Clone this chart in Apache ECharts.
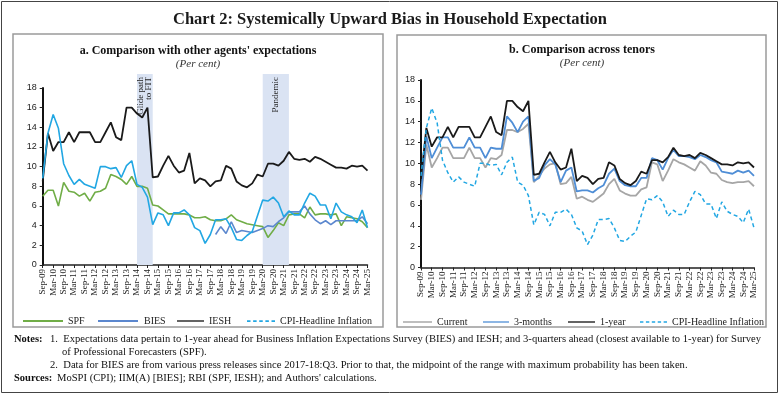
<!DOCTYPE html>
<html><head><meta charset="utf-8">
<script src="https://cdn.jsdelivr.net/npm/echarts@6/dist/echarts.min.js"></script>
<style>html,body{margin:0;padding:0;background:#fff}#c{width:780px;height:395px}</style>
</head><body><div id="c"></div>
<script>
const quarters = ['Sep-09','Dec-09','Mar-10','Jun-10','Sep-10','Dec-10','Mar-11','Jun-11','Sep-11','Dec-11',
'Mar-12','Jun-12','Sep-12','Dec-12','Mar-13','Jun-13','Sep-13','Dec-13','Mar-14','Jun-14','Sep-14','Dec-14',
'Mar-15','Jun-15','Sep-15','Dec-15','Mar-16','Jun-16','Sep-16','Dec-16','Mar-17','Jun-17','Sep-17','Dec-17',
'Mar-18','Jun-18','Sep-18','Dec-18','Mar-19','Jun-19','Sep-19','Dec-19','Mar-20','Jun-20','Sep-20','Dec-20',
'Mar-21','Jun-21','Sep-21','Dec-21','Mar-22','Jun-22','Sep-22','Dec-22','Mar-23','Jun-23','Sep-23','Dec-23',
'Mar-24','Jun-24','Sep-24','Dec-24','Mar-25'];

const spf = [7.0,7.6,7.6,6.0,8.4,7.5,7.4,7.0,7.3,6.5,7.4,7.5,7.8,9.2,9.0,8.7,8.2,9.0,8.0,8.0,7.8,6.1,
6.0,5.6,5.2,5.2,5.2,5.2,5.1,4.8,4.8,4.9,4.6,4.5,4.5,4.7,5.1,4.6,4.4,4.2,4.1,4.0,3.9,2.8,3.5,4.3,4.0,5.1,
5.2,5.2,4.8,5.9,5.1,5.2,5.2,5.1,5.2,4.0,4.9,4.8,4.7,4.4,3.8];

const bies = [null,null,null,null,null,null,null,null,null,null,null,null,null,null,null,null,null,null,
null,null,null,null,null,null,null,null,null,null,null,null,null,null,null,
3.1,3.9,3.2,4.4,3.3,3.5,3.4,3.3,3.5,3.7,4.0,3.9,4.4,4.8,5.4,5.4,5.4,6.0,5.2,4.6,4.2,4.5,4.1,4.5,4.5,4.5,4.5,4.5,4.9,4.2];

const iesh = [8.5,13.4,11.6,12.5,12.5,13.5,12.5,13.5,13.5,13.5,12.5,12.5,13.5,14.5,13.0,12.7,16.0,16.0,15.4,15.0,16.0,8.9,
9.0,10.1,11.1,10.1,9.4,9.6,11.4,8.3,8.8,8.6,8.0,8.5,8.6,10.1,9.8,8.5,8.1,7.9,8.3,9.2,9.0,10.3,10.3,10.1,10.6,11.5,
10.8,10.7,10.8,10.5,11.0,10.8,10.5,10.2,9.9,9.9,9.8,10.1,10.0,10.1,9.6];

const cpi = [8.8,13.4,15.3,13.9,10.3,9.1,8.2,8.7,8.2,8.0,7.8,10.0,10.0,9.8,9.9,8.9,10.1,10.6,8.2,7.9,6.9,4.1,
5.3,5.1,4.0,5.3,5.3,5.6,5.1,3.8,3.5,2.2,3.1,4.6,4.6,4.7,3.8,2.6,2.5,3.0,3.4,5.0,6.6,6.5,6.9,6.3,4.9,5.5,
5.1,5.1,6.3,7.3,7.0,6.1,6.1,4.7,6.3,5.4,5.1,4.9,4.3,5.6,3.8];

const current = [6.5,11.8,9.6,10.5,11.5,11.5,10.5,10.5,10.5,11.5,10.5,10.5,9.6,10.5,10.4,10.8,13.2,13.2,13.0,13.3,13.8,8.2,
8.8,9.5,9.9,10.0,8.0,8.1,8.7,6.6,6.8,6.5,6.3,6.7,7.1,8.0,8.5,7.4,7.1,6.9,6.9,7.5,7.7,10.1,9.9,8.3,9.3,10.4,
10.1,9.9,9.6,9.3,10.2,9.8,9.1,9.0,8.4,8.2,8.1,8.2,8.2,8.3,7.8];

const threeMonths = [7.0,12.6,10.5,11.5,12.5,12.5,11.5,11.5,11.5,12.5,11.5,11.5,10.5,11.5,11.4,11.4,14.5,13.9,13.0,14.0,14.5,8.3,
8.6,9.8,10.4,9.9,8.2,9.3,9.6,7.3,7.4,7.4,7.2,7.6,7.9,9.0,9.5,8.3,7.9,7.8,7.8,8.6,8.6,10.5,10.3,9.4,10.5,11.3,
10.7,10.7,10.6,10.4,10.8,10.6,10.3,10.1,9.2,9.1,9.0,9.3,9.1,9.3,8.8];

const oneYear = iesh;

const bands = [['Mar-14','Dec-14'],['Mar-20','Jun-21']];
const bandLabels = ['Glide path\nto FIT','Pandemic'];

const SERIF = '"Liberation Serif","DejaVu Serif",serif';
const SANS = '"Liberation Sans","DejaVu Sans",sans-serif';
const C_SPF = '#70AD47', C_BIES = '#5B87CE', C_CPI = '#22A7E3', C_CUR = '#A6A6A6', C_3M = '#4F8ED6';
const SOLID_ICON = 'path://M0,0H40V2H0Z';
const DASH_ICON = 'path://M0,0H4V2H0Z M7,0H11V2H7Z M14,0H18V2H14Z M21,0H25V2H21Z M28,0H32V2H28Z';

function xAx(grid, show) {
  return {
    gridIndex: grid, type: 'category', data: quarters, boundaryGap: false, show: show,
    axisLine: {lineStyle: {color: '#222', width: 1.5}},
    axisTick: {show: true, interval: 1, length: 3, lineStyle: {color: '#222'}},
    axisLabel: {interval: 1, rotate: 90, fontSize: 9, fontFamily: SERIF, color: '#222', margin: 4}
  };
}
function yAx(grid) {
  return {
    gridIndex: grid, type: 'value', min: 0, max: 18, interval: 2,
    axisLine: {show: true, lineStyle: {color: '#111', width: 2}},
    axisTick: {show: true, length: 3, lineStyle: {color: '#222'}},
    splitLine: {show: false},
    axisLabel: {fontSize: 9, fontFamily: SANS, color: '#222', margin: 6}
  };
}
function line(name, data, color, xi, width, dashed) {
  return {
    name: name, type: 'line', data: data, xAxisIndex: xi, yAxisIndex: xi,
    symbol: 'none', connectNulls: false, z: 3,
    lineStyle: {color: color, width: width, type: dashed ? [4, 3] : 'solid'},
    itemStyle: {color: color}
  };
}
function leg(name, left, top, w, color, dashed) {
  return {
    data: [name], left: left, top: top, itemWidth: w, itemHeight: 2, itemGap: 4,
    icon: dashed ? DASH_ICON : SOLID_ICON,
    itemStyle: {color: color, borderWidth: 0},
    textStyle: {fontFamily: SERIF, fontSize: 10, color: '#222'},
    selectedMode: false, padding: 0
  };
}

const chart = echarts.init(document.getElementById('c'));
const option = {
  animation: false,
  backgroundColor: '#fff',
  grid: [
    {left: 42.7, right: 412.5, top: 88, bottom: 130, outerBoundsMode: 'none'},
    {left: 42.7, right: 412.5, top: 74, bottom: 130, outerBoundsMode: 'none'},
    {left: 421, right: 26, top: 80, bottom: 127.5, outerBoundsMode: 'none'}
  ],
  xAxis: [xAx(0, true), xAx(1, false), xAx(2, true)],
  yAxis: [yAx(0), {gridIndex: 1, type: 'value', min: 0, max: 1, show: false}, yAx(2)],
  legend: [
    leg('SPF', 23, 316, 40, C_SPF), leg('BIES', 98, 316, 42, C_BIES), leg('IESH', 177, 316, 27, '#1a1a1a'),
    leg('CPI-Headline Inflation', 247, 316, 28, C_CPI, true),
    leg('Current', 403, 317, 29, C_CUR), leg('3-months', 483, 317, 26, C_3M), leg('1-year', 568, 317, 27, '#1a1a1a'),
    leg('CPI-Headline Inflation', 640, 317, 27, C_CPI, true)
  ],
  series: [
    {
      type: 'line', xAxisIndex: 1, yAxisIndex: 1, data: quarters.map(() => null), symbol: 'none', silent: true, z: 1,
      markArea: {silent: true, itemStyle: {color: '#DAE3F3'},
        data: bands.map(b => [{xAxis: b[0]}, {xAxis: b[1]}])}
    },
    line('SPF', spf, C_SPF, 0, 1.6),
    line('BIES', bies, C_BIES, 0, 1.6),
    line('IESH', iesh, '#1a1a1a', 0, 1.8),
    line('CPI-Headline Inflation', cpi, C_CPI, 0, 1.6),
    line('Current', current, C_CUR, 2, 1.8),
    line('3-months', threeMonths, C_3M, 2, 1.8),
    line('1-year', oneYear, '#1a1a1a', 2, 1.8),
    line('CPI-Headline Inflation', cpi, C_CPI, 2, 1.5, true)
  ],
  graphic: [
    {type: 'rect', shape: {x: 1.5, y: 1.5, width: 776, height: 391}, style: {fill: 'none', stroke: '#444', lineWidth: 1}, silent: true},
    {type: 'rect', shape: {x: 13, y: 34, width: 370, height: 293}, style: {fill: 'none', stroke: '#9a9a9a', lineWidth: 1.5}, silent: true},
    {type: 'rect', shape: {x: 397, y: 35, width: 369, height: 292}, style: {fill: 'none', stroke: '#9a9a9a', lineWidth: 1.5}, silent: true},
    {type: 'text', x: 390, y: 20, style: {text: 'Chart 2: Systemically Upward Bias in Household Expectation', font: 'bold 16.5px ' + SERIF, fill: '#1a1a1a', align: 'center', verticalAlign: 'middle'}},
    {type: 'text', x: 198, y: 51, style: {text: "a. Comparison with other agents' expectations", font: 'bold 12px ' + SERIF, fill: '#111', align: 'center', verticalAlign: 'middle'}},
    {type: 'text', x: 198, y: 64, style: {text: '(Per cent)', font: 'italic 11px ' + SERIF, fill: '#333', align: 'center', verticalAlign: 'middle'}},
    {type: 'text', x: 582, y: 50, style: {text: 'b. Comparison across tenors', font: 'bold 12px ' + SERIF, fill: '#111', align: 'center', verticalAlign: 'middle'}},
    {type: 'text', x: 582, y: 63, style: {text: '(Per cent)', font: 'italic 11px ' + SERIF, fill: '#333', align: 'center', verticalAlign: 'middle'}},
    {type: 'text', x: 14, y: 339, style: {text: 'Notes:', font: 'bold 10.5px ' + SERIF, fill: '#111', verticalAlign: 'middle'}},
    {type: 'text', x: 50, y: 339, style: {text: '1.  Expectations data pertain to 1-year ahead for Business Inflation Expectations Survey (BIES) and IESH; and 3-quarters ahead (closest available to 1-year) for Survey', font: '10.6px ' + SERIF, fill: '#111', verticalAlign: 'middle'}},
    {type: 'text', x: 62, y: 352, style: {text: 'of Professional Forecasters (SPF).', font: '10.6px ' + SERIF, fill: '#111', verticalAlign: 'middle'}},
    {type: 'text', x: 50, y: 365, style: {text: '2.  Data for BIES are from various press releases since 2017-18:Q3. Prior to that, the midpoint of the range with maximum probability has been taken.', font: '10.6px ' + SERIF, fill: '#111', verticalAlign: 'middle'}},
    {type: 'text', x: 14, y: 378, style: {text: 'Sources:', font: 'bold 10.5px ' + SERIF, fill: '#111', verticalAlign: 'middle'}},
    {type: 'text', x: 57, y: 378, style: {text: "MoSPI (CPI); IIM(A) [BIES]; RBI (SPF, IESH); and Authors' calculations.", font: '10.6px ' + SERIF, fill: '#111', verticalAlign: 'middle'}}
  ]
};
chart.setOption(option);

// band labels, positioned at the centre of each shaded band
const extra = bands.map((b, i) => {
  const x0 = chart.convertToPixel({xAxisIndex: 0, yAxisIndex: 0}, [b[0], 0])[0];
  const x1 = chart.convertToPixel({xAxisIndex: 0, yAxisIndex: 0}, [b[1], 0])[0];
  return {type: 'text', id: 'band' + i, x: (x0 + x1) / 2, y: 77, rotation: Math.PI / 2, z: 10,
    style: {text: bandLabels[i], font: '9px ' + SERIF, fill: '#222', align: 'right', verticalAlign: 'middle', lineHeight: 8}};
});
chart.setOption({graphic: option.graphic.concat(extra)});
</script></body></html>
